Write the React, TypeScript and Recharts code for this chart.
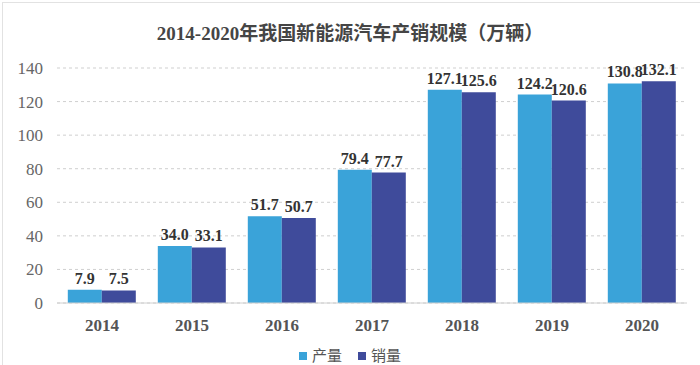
import React from 'react'
import { BarChart, Bar, XAxis, YAxis, CartesianGrid, LabelList } from 'recharts'

const years = ['2014', '2015', '2016', '2017', '2018', '2019', '2020']
const production = [7.9, 34.0, 51.7, 79.4, 127.1, 124.2, 130.8]
const sales = [7.5, 33.1, 50.7, 77.7, 125.6, 120.6, 132.1]
const yTicks = [0, 20, 40, 60, 80, 100, 120, 140]

const LIGHT = '#3aa3d9'
const DARK = '#3f4b9b'
const SERIF = '"Liberation Serif", "Noto Sans CJK SC", serif'

const data = years.map((year, i) => ({
  year,
  产量: production[i],
  销量: sales[i],
}))

const fmt = (v: any) => Number(v).toFixed(1)

export default function App() {
  return (
    <div
      style={{
        position: 'absolute',
        left: 0,
        top: 0,
        width: 700,
        height: 365,
        background: '#fff',
        fontFamily: SERIF,
        overflow: 'hidden',
      }}
    >
      {/* 外框 */}
      <div
        style={{
          position: 'absolute',
          left: 2,
          top: 2,
          width: 720,
          height: 400,
          borderLeft: '1px solid #e2e2e2',
          borderTop: '1px solid #e2e2e2',
        }}
      />
      <div
        style={{
          position: 'absolute',
          top: 18,
          left: 0,
          width: 700,
          textAlign: 'center',
          fontSize: 19,
          fontWeight: 'bold',
          color: '#454545',
        }}
      >
        2014-2020年我国新能源汽车产销规模（万辆）
      </div>
      <BarChart
        width={700}
        height={365}
        data={data}
        margin={{ top: 68, right: 13, left: 0, bottom: 32 }}
        barCategoryGap="12%"
        barGap={0}
        style={{ position: 'absolute', left: 0, top: 0 }}
      >
        <CartesianGrid vertical={false} stroke="#cfcfcf" strokeDasharray="3 3" />
        <XAxis
          dataKey="year"
          height={30}
          tickLine={false}
          axisLine={{ stroke: '#d0d0d0' }}
          tickSize={0}
          tickMargin={16}
          tick={{ fill: '#555', fontSize: 17, fontWeight: 'bold', fontFamily: SERIF }}
        />
        <YAxis
          width={57}
          domain={[0, 140]}
          ticks={yTicks}
          tickLine={false}
          axisLine={false}
          tickSize={0}
          tickMargin={14}
          tick={{ fill: '#666', fontSize: 17, fontFamily: SERIF }}
        />
        <Bar dataKey="产量" fill={LIGHT} isAnimationActive={false}>
          <LabelList
            dataKey="产量"
            position="top"
            offset={6}
            formatter={fmt}
            style={{ fill: '#333', fontSize: 16, fontWeight: 'bold', fontFamily: SERIF }}
          />
        </Bar>
        <Bar dataKey="销量" fill={DARK} isAnimationActive={false}>
          <LabelList
            dataKey="销量"
            position="top"
            offset={6}
            formatter={fmt}
            style={{ fill: '#333', fontSize: 16, fontWeight: 'bold', fontFamily: SERIF }}
          />
        </Bar>
      </BarChart>
      {/* 图例 */}
      <div
        style={{
          position: 'absolute',
          top: 347,
          left: 0,
          width: 700,
          display: 'flex',
          justifyContent: 'center',
          alignItems: 'center',
          fontSize: 15,
          lineHeight: '18px',
          color: '#555',
          paddingRight: 10,
        }}
      >
        <span style={{ width: 8, height: 8, background: LIGHT, marginRight: 5 }} />
        <span style={{ marginRight: 16 }}>产量</span>
        <span style={{ width: 8, height: 8, background: DARK, marginRight: 5 }} />
        <span>销量</span>
      </div>
    </div>
  )
}
